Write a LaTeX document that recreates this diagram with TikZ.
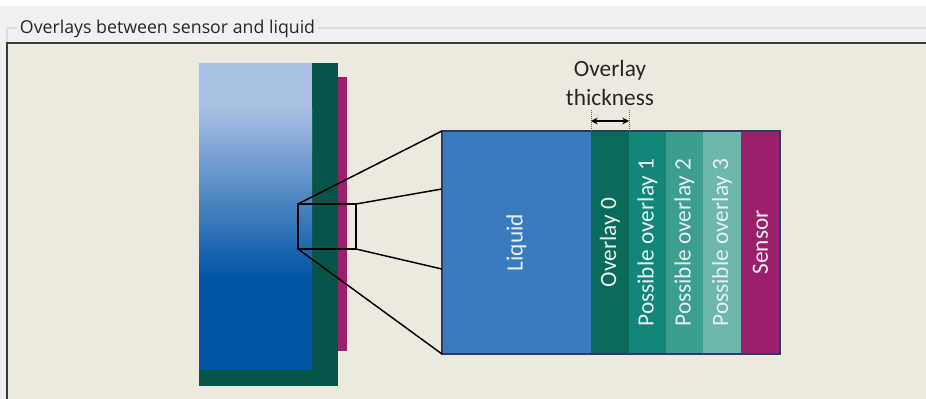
\documentclass[tikz,border=0pt]{standalone}
\usepackage{fontspec}
\setmainfont{Carlito}
\newfontfamily\uifont{Open Sans}
\usetikzlibrary{fit,calc,arrows.meta}
\definecolor{panel}{HTML}{ECE9DF}
\definecolor{ui}{HTML}{F0F0F0}
\definecolor{uiline}{HTML}{DCDCDC}
\definecolor{frame}{HTML}{3A3A3A}
\definecolor{lightblue}{HTML}{AABFE4}
\definecolor{deepblue}{HTML}{0055A5}
\definecolor{darkgreen}{HTML}{06544A}
\definecolor{magentac}{HTML}{9B1F6A}
\definecolor{liquidc}{HTML}{3A7BBF}
\definecolor{ovzero}{HTML}{0B6B5A}
\definecolor{ovone}{HTML}{128778}
\definecolor{ovtwo}{HTML}{3B9E8F}
\definecolor{ovthree}{HTML}{6DB7AD}
\definecolor{navy}{HTML}{2B3A67}
\definecolor{labelc}{HTML}{E8EEF4}
\begin{document}
\begin{tikzpicture}[x=0.75pt,y=-0.75pt,
  box/.style={inner sep=0pt,outer sep=0pt},
  strip/.style={box,fill=#1},
  vlabel/.style={rotate=90,text=labelc,font=\fontsize{17.5}{20}\selectfont,inner sep=0pt},
  zoomline/.style={black,line width=1.1pt},
]
\useasboundingbox (0,0) rectangle (926,399);
% window chrome
\fill[white] (0,0) rectangle (926,6);
\fill[ui] (0,6) rectangle (926,399);
\draw[uiline,line width=1pt] (7,28) -- (17,28);
\draw[uiline,line width=1pt] (318,28) -- (926,28);
\draw[uiline,line width=1pt] (7,28) -- (7,43);
\node[box,anchor=west,font=\uifont\fontsize{13.3}{15}\selectfont,text=black!85] (title) at (20,29) {Overlays between sensor and liquid};
\fill[panel] (7,43) rectangle (926,399);
\draw[frame,line width=1.5pt] (7,399) -- (7,43) -- (926,43);
% left column
\node[strip=darkgreen,fit={(199,63)(338,386)}] (col) {};
\fill[lightblue] (199,63) rectangle (312,108);
\shade[top color=lightblue,bottom color=deepblue] (199,107.5) rectangle (312,277);
\fill[deepblue] (199,276.5) rectangle (312,370);
\node[strip=magentac,fit={(338,77)(347,351)}] (sensorstrip) {};
% zoom box
\node[box,draw=black,line width=1.1pt,fit={(298,204)(356,249)}] (zbox) {};
% big view
\node[strip=liquidc,fit={(442,131)(591,354)}] (liq) {};
\node[strip=ovzero,fit={(591,131)(629,354)}] (ov0) {};
\node[strip=ovone,fit={(629,131)(666,354)}] (ov1) {};
\node[strip=ovtwo,fit={(666,131)(703,354)}] (ov2) {};
\node[strip=ovthree,fit={(703,131)(741,354)}] (ov3) {};
\node[strip=magentac,fit={(741,131)(780,354)}] (sen) {};
\node[box,draw=navy,line width=1.1pt,fit={(442,131)(780,354)}] (big) {};
\node[vlabel] (lliq) at (liq.center) {Liquid};
\node[vlabel] (lov0) at (ov0.center) {Overlay 0};
\node[vlabel] (lov1) at (ov1.center) {Possible overlay 1};
\node[vlabel] (lov2) at (ov2.center) {Possible overlay 2};
\node[vlabel] (lov3) at (ov3.center) {Possible overlay 3};
\node[vlabel] (lsen) at (sen.center) {Sensor};
% zoom lines
\draw[zoomline] (zbox.north west) -- (big.north west);
\draw[zoomline] (zbox.north east) -- ($(big.north west)!0.26!(big.south west)$);
\draw[zoomline] (zbox.south east) -- ($(big.north west)!0.619!(big.south west)$);
\draw[zoomline] (zbox.south west) -- (big.south west);
% thickness
\coordinate (t1) at ($(ov0.north west)+(0,-21)$);
\coordinate (t2) at ($(ov0.north east)+(0,-21)$);
\draw[black!60,densely dotted,line width=0.5pt] (ov0.north west) -- (t1);
\draw[black!60,densely dotted,line width=0.5pt] (ov0.north east) -- (t2);
\draw[black,line width=1.1pt,{Stealth[length=5pt,width=5pt]}-{Stealth[length=5pt,width=5pt]}] ($(ov0.north west)+(0,-10)$) -- ($(ov0.north east)+(0,-10)$);
\node[box,align=center,font=\fontsize{17.5}{21.5}\selectfont,text=black!85] (thick) at (610,83) {Overlay\\thickness};
\end{tikzpicture}
\end{document}
